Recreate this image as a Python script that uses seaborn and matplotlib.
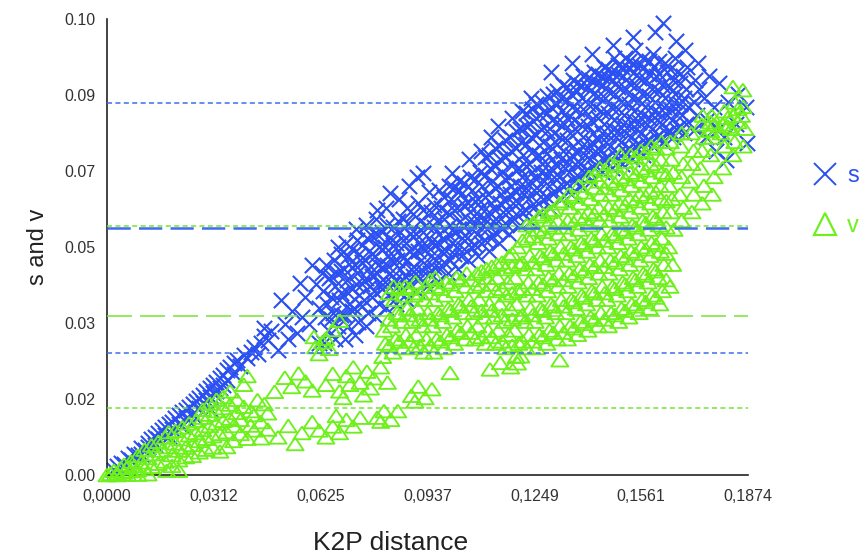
import numpy as np
import pandas as pd
import matplotlib
matplotlib.use("Agg")
import matplotlib.pyplot as plt
import seaborn as sns
from matplotlib.lines import Line2D

sns.set_theme(style="white")
plt.rcParams["font.family"] = ["Liberation Sans", "DejaVu Sans"]

# ---------------- axis / tick data ----------------
x_max = 0.1874
y_max = 0.104
x_tick_labels = ["0,0000", "0,0312", "0,0625", "0,0937", "0,1249", "0,1561", "0,1874"]
y_tick_labels = ["0.00", "0.02", "0.03", "0.05", "0.07", "0.09", "0.10"]
series_names = ["s", "v"]

# reference lines (mean and +/- 2 SD)
s_lines = [0.0848, 0.0563, 0.0278]   # upper, mean, lower
v_lines = [0.0568, 0.0363, 0.0153]

# ---------------- s (transitions) points: (K2P distance, s) ----------------
s_low = [(.002,.0012),(.003,.0021),(.004,.0028),(.005,.0024),(.006,.0038),(.007,.0034),(.008,.0049),
 (.009,.0046),(.010,.0062),(.010,.0049),(.011,.0057),(.012,.0074),(.012,.0064),(.013,.0081),(.014,.0087),
 (.014,.0069),(.015,.0081),(.015,.0095),(.016,.0102),(.017,.0091),(.017,.0109),(.018,.0116),(.018,.0089),
 (.019,.0104),(.019,.0121),(.020,.0129),(.021,.0117),(.021,.0136),(.022,.0143),(.022,.0111),(.023,.0129),
 (.023,.0149),(.024,.0156),(.025,.0139),(.025,.0163),(.026,.0169),(.026,.0131),(.027,.0152),(.027,.0176),
 (.028,.0164),(.028,.0183),(.029,.0172),(.029,.0191),(.030,.0178),(.030,.0199),(.030,.0150),(.031,.0186),
 (.031,.0206),(.032,.0191),(.032,.0213),(.033,.0199),(.033,.0221),(.034,.0206),(.034,.0229),(.035,.0216),
 (.035,.0239),(.036,.0246),(.037,.0231),(.037,.0256),(.038,.0263),(.039,.0249),(.040,.0273),(.041,.0266),
 (.042,.0281),(.043,.0293),(.044,.0276),(.045,.0301),(.046,.0316),(.047,.0309),(.048,.0329),(.046,.0336)]

s_sparse = [(.050,.0285),(.051,.0400),(.052,.0345),(.053,.0310),(.054,.0375),(.0555,.0325),(.0565,.0438),
 (.057,.0360),(.058,.0405),(.059,.0345),(.060,.0480),(.061,.0435),(.062,.0300),(.062,.0380),(.063,.0460),
 (.0827,.0643),(.0789,.0604),(.0924,.0689),(.1009,.0689),(.103,.065)]

s_main = [
 (.0634,.030),(.0646,.033),(.0638,.036),(.0644,.039),(.0632,.042),(.0648,.045),(.0640,.048),
 (.0666,.031),(.0674,.034),(.0662,.037),(.0678,.040),(.0668,.043),(.0672,.046),(.0664,.049),(.0676,.052),
 (.0696,.031),(.0704,.034),(.0692,.0365),(.0708,.039),(.0698,.042),(.0702,.0445),(.0694,.047),(.0706,.050),(.0700,.053),
 (.0726,.032),(.0734,.035),(.0722,.038),(.0738,.041),(.0728,.0435),(.0732,.046),(.0724,.048),(.0736,.0505),(.0730,.0535),(.0727,.056),
 (.0756,.034),(.0764,.037),(.0752,.040),(.0768,.043),(.0758,.045),(.0762,.047),(.0754,.049),(.0766,.051),(.0760,.054),(.0757,.057),
 (.0786,.036),(.0794,.039),(.0782,.042),(.0798,.044),(.0788,.046),(.0792,.048),(.0784,.050),(.0796,.052),(.0790,.055),(.0787,.0585),
 (.0816,.038),(.0824,.041),(.0812,.044),(.0828,.046),(.0818,.048),(.0822,.050),(.0814,.052),(.0826,.054),(.0820,.057),(.0817,.061),
 (.0846,.039),(.0854,.042),(.0842,.0445),(.0858,.047),(.0848,.049),(.0852,.051),(.0844,.053),(.0856,.0555),(.0850,.058),(.0853,.063),
 (.0876,.040),(.0884,.043),(.0872,.0455),(.0888,.047),(.0878,.049),(.0882,.051),(.0874,.053),(.0886,.055),(.0880,.0575),(.0877,.061),(.0883,.066),
 (.0906,.042),(.0914,.045),(.0902,.047),(.0918,.049),(.0908,.051),(.0912,.053),(.0904,.055),(.0916,.058),(.0910,.062),(.0907,.068),
 (.0936,.043),(.0944,.046),(.0932,.048),(.0948,.050),(.0938,.052),(.0942,.054),(.0934,.057),(.0946,.060),(.0940,.0645),
 (.0966,.044),(.0974,.047),(.0962,.049),(.0978,.051),(.0968,.053),(.0972,.055),(.0964,.058),(.0976,.061),(.0970,.065),
 (.0996,.046),(.1004,.049),(.0992,.051),(.1008,.053),(.0998,.055),(.1002,.057),(.0994,.060),(.1006,.063),(.1000,.066),
 (.1026,.047),(.1034,.050),(.1022,.052),(.1038,.054),(.1028,.056),(.1032,.058),(.1024,.061),(.1036,.064),(.1030,.067),
 (.1056,.049),(.1064,.052),(.1052,.054),(.1068,.056),(.1058,.058),(.1062,.060),(.1054,.062),(.1066,.065),(.1060,.068),(.1057,.072),
 (.1086,.050),(.1094,.053),(.1082,.055),(.1098,.057),(.1088,.059),(.1092,.061),(.1084,.063),(.1096,.066),(.1090,.069),(.1093,.074),
 (.1116,.051),(.1124,.054),(.1112,.056),(.1128,.058),(.1118,.060),(.1122,.062),(.1114,.064),(.1126,.067),(.1120,.070),(.1117,.073),(.1123,.077),
 (.1146,.053),(.1154,.056),(.1142,.058),(.1158,.060),(.1148,.062),(.1152,.064),(.1144,.066),(.1156,.069),(.1150,.072),(.1147,.075),(.1143,.0795),
 (.1176,.055),(.1184,.058),(.1172,.060),(.1188,.062),(.1178,.064),(.1182,.066),(.1174,.068),(.1186,.071),(.1180,.074),(.1177,.077),(.1183,.0815),
 (.1206,.057),(.1214,.060),(.1202,.062),(.1218,.064),(.1208,.066),(.1212,.068),(.1204,.070),(.1216,.073),(.1210,.076),(.1207,.079),(.1213,.083),
 (.1236,.058),(.1244,.061),(.1232,.063),(.1248,.065),(.1238,.067),(.1242,.069),(.1234,.071),(.1246,.074),(.1240,.077),(.1237,.080),(.1243,.0835),(.1239,.086),
 (.1266,.060),(.1274,.063),(.1262,.065),(.1278,.067),(.1268,.069),(.1272,.071),(.1264,.073),(.1276,.076),(.1270,.079),(.1267,.082),(.1273,.085),
 (.1296,.061),(.1304,.064),(.1292,.066),(.1308,.068),(.1298,.070),(.1302,.072),(.1294,.075),(.1306,.078),(.1300,.081),(.1297,.084),(.1303,.087),(.1299,.092),
 (.1326,.063),(.1334,.066),(.1322,.068),(.1338,.070),(.1328,.072),(.1332,.074),(.1324,.077),(.1336,.080),(.1330,.083),(.1327,.086),(.1333,.089),
 (.1356,.064),(.1364,.067),(.1352,.069),(.1368,.071),(.1358,.073),(.1362,.075),(.1354,.078),(.1366,.081),(.1360,.084),(.1357,.087),(.1363,.090),(.1359,.094),
 (.1386,.066),(.1394,.069),(.1382,.071),(.1398,.073),(.1388,.075),(.1392,.077),(.1384,.080),(.1396,.083),(.1390,.086),(.1387,.089),(.1393,.091),
 (.1416,.067),(.1424,.070),(.1412,.072),(.1428,.074),(.1418,.076),(.1422,.078),(.1414,.081),(.1426,.084),(.1420,.087),(.1417,.090),(.1423,.092),(.1419,.096),
 (.1446,.069),(.1454,.072),(.1442,.074),(.1458,.076),(.1448,.078),(.1452,.080),(.1444,.083),(.1456,.086),(.1450,.089),(.1447,.091),(.1453,.093),
 (.1476,.070),(.1484,.073),(.1472,.075),(.1488,.077),(.1478,.079),(.1482,.081),(.1474,.084),(.1486,.087),(.1480,.090),(.1477,.092),(.1483,.095),(.1479,.098),
 (.1506,.071),(.1514,.074),(.1502,.076),(.1518,.078),(.1508,.080),(.1512,.082),(.1504,.085),(.1516,.088),(.1510,.091),(.1507,.093),(.1513,.095),
 (.1536,.072),(.1544,.075),(.1532,.077),(.1548,.079),(.1538,.081),(.1542,.083),(.1534,.086),(.1546,.089),(.1540,.092),(.1537,.094),(.1543,.097),(.1539,.100),
 (.1566,.073),(.1574,.076),(.1562,.078),(.1578,.080),(.1568,.082),(.1572,.084),(.1564,.087),(.1576,.090),(.1570,.093),(.1567,.095),
 (.1596,.075),(.1604,.077),(.1592,.079),(.1608,.081),(.1598,.083),(.1602,.085),(.1594,.088),(.1606,.091),(.1600,.093),(.1597,.096),(.1603,.101),
 (.1626,.076),(.1634,.078),(.1622,.080),(.1638,.082),(.1628,.084),(.1632,.086),(.1624,.089),(.1636,.092),(.1630,.094),(.1625,.103),
 (.1656,.077),(.1664,.079),(.1652,.081),(.1668,.083),(.1658,.085),(.1662,.087),(.1654,.090),(.1666,.092),(.1660,.095),(.1663,.099),
 (.1686,.078),(.1694,.080),(.1682,.082),(.1698,.084),(.1688,.086),(.1692,.088),(.1684,.091),(.1696,.093),(.1690,.097)]

s_core = [
 (.0655,.0355),(.0655,.0405),(.0655,.0455),
 (.0685,.0365),(.0685,.0415),(.0685,.0465),(.0685,.0505),
 (.0715,.0375),(.0715,.0425),(.0715,.0475),(.0715,.0515),
 (.0745,.0385),(.0745,.0435),(.0745,.0485),(.0745,.0525),
 (.0775,.0405),(.0775,.0455),(.0775,.0505),(.0775,.0545),
 (.0805,.0425),(.0805,.0475),(.0805,.0515),(.0805,.0555),
 (.0835,.0435),(.0835,.0485),(.0835,.0525),(.0835,.0565),
 (.0865,.0445),(.0865,.0495),(.0865,.0535),(.0865,.0585),
 (.0895,.0455),(.0895,.0505),(.0895,.0545),(.0895,.0595),
 (.0925,.0465),(.0925,.0515),(.0925,.0555),(.0925,.0605),
 (.0955,.0475),(.0955,.0525),(.0955,.0565),(.0955,.0615),
 (.0985,.0485),(.0985,.0535),(.0985,.0585),(.0985,.0635),
 (.1015,.0505),(.1015,.0555),(.1015,.0605),(.1015,.0655),
 (.1045,.0515),(.1045,.0565),(.1045,.0615),(.1045,.0665),
 (.1075,.0525),(.1075,.0575),(.1075,.0625),(.1075,.0675),
 (.1105,.0535),(.1105,.0585),(.1105,.0635),(.1105,.0685),(.1105,.0725),
 (.1135,.0555),(.1135,.0605),(.1135,.0655),(.1135,.0705),(.1135,.0745),
 (.1165,.0575),(.1165,.0625),(.1165,.0675),(.1165,.0725),(.1165,.0765),
 (.1195,.0595),(.1195,.0645),(.1195,.0695),(.1195,.0745),(.1195,.0785),
 (.1225,.0605),(.1225,.0655),(.1225,.0705),(.1225,.0755),(.1225,.0795),(.1225,.0825),
 (.1255,.0625),(.1255,.0675),(.1255,.0725),(.1255,.0775),(.1255,.0815),(.1255,.0845),
 (.1285,.0635),(.1285,.0685),(.1285,.0735),(.1285,.0785),(.1285,.0825),(.1285,.0865),
 (.1315,.0655),(.1315,.0705),(.1315,.0755),(.1315,.0805),(.1315,.0845),(.1315,.0875),
 (.1345,.0665),(.1345,.0715),(.1345,.0765),(.1345,.0815),(.1345,.0855),(.1345,.0885),
 (.1375,.0685),(.1375,.0735),(.1375,.0785),(.1375,.0835),(.1375,.0875),(.1375,.0895),
 (.1405,.0695),(.1405,.0745),(.1405,.0795),(.1405,.0845),(.1405,.0885),(.1405,.0905),
 (.1435,.0715),(.1435,.0765),(.1435,.0815),(.1435,.0865),(.1435,.0895),(.1435,.0915),
 (.1465,.0725),(.1465,.0775),(.1465,.0825),(.1465,.0875),(.1465,.0905),(.1465,.0925),
 (.1495,.0735),(.1495,.0785),(.1495,.0835),(.1495,.0885),(.1495,.0915),(.1495,.0935),
 (.1525,.0745),(.1525,.0795),(.1525,.0845),(.1525,.0895),(.1525,.0925),(.1525,.0945),
 (.1555,.0755),(.1555,.0805),(.1555,.0855),(.1555,.0905),(.1555,.0935),
 (.1585,.0765),(.1585,.0815),(.1585,.0865),(.1585,.0915),(.1585,.0945),
 (.1615,.0775),(.1615,.0825),(.1615,.0875),(.1615,.0915),(.1615,.0945),
 (.1645,.0785),(.1645,.0835),(.1645,.0885),(.1645,.0925),
 (.1675,.0795),(.1675,.0845),(.1675,.0895)]

s_edge = [(.172,.079),(.1725,.082),(.1715,.085),(.173,.088),(.172,.090),(.1728,.094),(.175,.077),(.1755,.081),
 (.1745,.086),(.176,.091),(.178,.074),(.1785,.079),(.1775,.084),(.179,.0894),(.181,.0718),(.1805,.077),
 (.1815,.085),(.184,.080),(.1845,.087),(.187,.0757),(.1868,.0839)]

# ---------------- v (transversions) points: (K2P distance, v) ----------------
v_low = [(.000,.0000),(.003,.0000),(.006,.0001),(.009,.0001),(.012,.0002),(.0175,.0010),(.021,.0010),
 (.001,.0003),(.002,.0010),(.003,.0004),(.004,.0016),(.005,.0006),(.005,.0024),(.006,.0018),(.007,.0009),
 (.007,.0031),(.008,.0021),(.009,.0011),(.009,.0044),(.010,.0029),(.011,.0014),(.011,.0058),(.012,.0039),
 (.013,.0019),(.013,.0068),(.014,.0048),(.015,.0026),(.015,.0076),(.016,.0056),(.017,.0031),(.017,.0086),
 (.018,.0064),(.018,.0098),(.019,.0021),(.019,.0046),(.020,.0072),(.020,.0101),(.021,.0034),(.021,.0056),
 (.022,.0082),(.022,.0109),(.023,.0041),(.023,.0063),(.024,.0091),(.024,.0118),(.025,.0044),(.025,.0069),
 (.026,.0096),(.026,.0124),(.027,.0052),(.027,.0078),(.028,.0103),(.028,.0131),(.028,.0149),(.029,.0058),
 (.029,.0083),(.030,.0112),(.030,.0138),(.030,.0163),(.031,.0063),(.031,.0089),(.032,.0118),(.032,.0146),
 (.032,.0172),(.033,.0054),(.033,.0094),(.034,.0124),(.034,.0153),(.034,.0178),(.035,.0064),(.035,.0098),
 (.036,.0129),(.036,.0161),(.036,.0191),(.037,.0078),(.037,.0112),(.038,.0142),(.038,.0172),(.039,.0094),
 (.039,.0126),(.040,.0156),(.040,.0206),(.041,.0226),(.041,.0083),(.042,.0113),(.042,.0146),(.043,.0102),
 (.043,.0137),(.044,.0171),(.045,.0084),(.045,.0121),(.046,.0162),(.047,.0104),(.047,.0141)]

v_mid = [(.049,.0190),(.052,.0222),(.054,.0201),(.056,.0232),(.058,.0214),(.060,.0193),(.050,.0086),
 (.053,.0112),(.055,.0071),(.057,.0096),(.060,.0121),(.062,.0102),
 (.061,.0292),(.063,.0303),(.062,.0276),(.064,.0311),(.066,.0331),(.068,.0352),(.0605,.0315),(.065,.0288),
 (.064,.0206),(.066,.0231),(.068,.0191),(.070,.0226),(.072,.0246),(.074,.0211),(.076,.0236),(.078,.0221),
 (.080,.0246),(.082,.0211),(.075,.0182),(.069,.0176),(.071,.0206),(.077,.0198),
 (.064,.0086),(.066,.0111),(.068,.0096),(.070,.0126),(.072,.0111),(.074,.0131),(.067,.0135),
 (.079,.0131),(.081,.0146),(.083,.0126),(.085,.0146),(.080,.0122),
 (.089,.0181),(.091,.0202),(.093,.0176),(.095,.0196),(.090,.0168),(.1003,.0233),
 (.112,.0241),(.115,.0256),(.118,.0246),(.121,.0271),(.1324,.0262),(.120,.0255)]

v_main = [
 (.0806,.027),(.0814,.030),(.0810,.033),
 (.0836,.028),(.0844,.031),(.0832,.034),(.0848,.037),(.0840,.040),(.0838,.043),
 (.0866,.029),(.0874,.032),(.0862,.035),(.0878,.038),(.0868,.041),(.0872,.043),
 (.0896,.029),(.0904,.032),(.0892,.035),(.0908,.038),(.0898,.041),(.0902,.044),
 (.0926,.028),(.0934,.031),(.0922,.034),(.0938,.037),(.0928,.040),(.0932,.043),
 (.0956,.028),(.0964,.031),(.0952,.034),(.0968,.037),(.0958,.040),(.0962,.043),(.0960,.045),
 (.0986,.029),(.0994,.032),(.0982,.035),(.0998,.038),(.0988,.041),(.0992,.044),
 (.1016,.030),(.1024,.033),(.1012,.036),(.1028,.039),(.1018,.042),(.1022,.045),
 (.1046,.031),(.1054,.034),(.1042,.037),(.1058,.040),(.1048,.043),(.1052,.046),
 (.1076,.031),(.1084,.034),(.1072,.037),(.1088,.040),(.1078,.043),(.1082,.046),
 (.1106,.030),(.1114,.033),(.1102,.036),(.1118,.039),(.1108,.042),(.1112,.045),(.1110,.047),
 (.1136,.030),(.1144,.033),(.1132,.036),(.1148,.039),(.1138,.042),(.1142,.045),(.1140,.048),
 (.1166,.029),(.1174,.032),(.1162,.035),(.1178,.038),(.1168,.041),(.1172,.044),(.1164,.047),(.1176,.050),
 (.1196,.027),(.1204,.030),(.1192,.033),(.1208,.036),(.1198,.039),(.1202,.042),(.1194,.045),(.1206,.048),(.1200,.052),
 (.1226,.029),(.1234,.032),(.1222,.035),(.1238,.038),(.1228,.041),(.1232,.044),(.1224,.047),(.1236,.050),(.1230,.054),(.1227,.057),
 (.1256,.029),(.1264,.032),(.1252,.035),(.1268,.038),(.1258,.041),(.1262,.044),(.1254,.047),(.1266,.050),(.1260,.053),(.1257,.056),(.1263,.059),
 (.1286,.030),(.1294,.033),(.1282,.036),(.1298,.039),(.1288,.042),(.1292,.045),(.1284,.048),(.1296,.051),(.1290,.054),(.1287,.057),(.1293,.060),
 (.1316,.031),(.1324,.034),(.1312,.037),(.1328,.040),(.1318,.043),(.1322,.046),(.1314,.049),(.1326,.052),(.1320,.055),(.1317,.058),(.1323,.062),
 (.1346,.031),(.1354,.034),(.1342,.037),(.1358,.040),(.1348,.043),(.1352,.046),(.1344,.049),(.1356,.052),(.1350,.055),(.1347,.058),(.1353,.061),(.1349,.064),
 (.1376,.032),(.1384,.035),(.1372,.038),(.1388,.041),(.1378,.044),(.1382,.047),(.1374,.050),(.1386,.053),(.1380,.056),(.1377,.059),(.1383,.062),(.1379,.066),
 (.1406,.033),(.1414,.036),(.1402,.039),(.1418,.042),(.1408,.045),(.1412,.048),(.1404,.051),(.1416,.054),(.1410,.057),(.1407,.060),(.1413,.063),(.1409,.068),
 (.1436,.034),(.1444,.037),(.1432,.040),(.1448,.043),(.1438,.046),(.1442,.049),(.1434,.052),(.1446,.055),(.1440,.058),(.1437,.061),(.1443,.064),(.1439,.067),(.1441,.070),
 (.1466,.034),(.1474,.037),(.1462,.040),(.1478,.043),(.1468,.046),(.1472,.049),(.1464,.052),(.1476,.055),(.1470,.058),(.1467,.061),(.1473,.064),(.1469,.067),(.1471,.071),
 (.1496,.035),(.1504,.038),(.1492,.041),(.1508,.044),(.1498,.047),(.1502,.050),(.1494,.053),(.1506,.056),(.1500,.059),(.1497,.062),(.1503,.065),(.1499,.068),(.1501,.073),
 (.1526,.036),(.1534,.039),(.1522,.042),(.1538,.045),(.1528,.048),(.1532,.051),(.1524,.054),(.1536,.057),(.1530,.060),(.1527,.063),(.1533,.066),(.1529,.069),(.1531,.073),
 (.1556,.037),(.1564,.040),(.1552,.043),(.1568,.046),(.1558,.049),(.1562,.052),(.1554,.055),(.1566,.058),(.1560,.061),(.1557,.064),(.1563,.067),(.1559,.070),(.1561,.074),
 (.1586,.038),(.1594,.041),(.1582,.044),(.1598,.047),(.1588,.050),(.1592,.053),(.1584,.056),(.1596,.059),(.1590,.062),(.1587,.065),(.1593,.068),(.1589,.071),(.1591,.075),
 (.1616,.039),(.1624,.042),(.1612,.045),(.1628,.048),(.1618,.051),(.1622,.054),(.1614,.057),(.1626,.060),(.1620,.063),(.1617,.066),(.1623,.069),(.1619,.072),(.1621,.076),
 (.1646,.043),(.1654,.048),(.1642,.052),(.1658,.056),(.1648,.060),(.1652,.063),(.1644,.066),(.1656,.069),(.1650,.072),(.1647,.076)]

v_core = [
 (.0825,.0295),(.0825,.0355),(.0825,.0415),
 (.0855,.0305),(.0855,.0365),(.0855,.0425),
 (.0885,.0305),(.0885,.0365),(.0885,.0425),
 (.0915,.0295),(.0915,.0355),(.0915,.0415),
 (.0945,.0295),(.0945,.0355),(.0945,.0415),(.0945,.0445),
 (.0975,.0305),(.0975,.0365),(.0975,.0425),
 (.1005,.0315),(.1005,.0375),(.1005,.0435),
 (.1035,.0325),(.1035,.0385),(.1035,.0445),
 (.1065,.0325),(.1065,.0385),(.1065,.0445),
 (.1095,.0315),(.1095,.0375),(.1095,.0435),(.1095,.0465),
 (.1125,.0315),(.1125,.0375),(.1125,.0435),(.1125,.0475),
 (.1155,.0305),(.1155,.0365),(.1155,.0425),(.1155,.0485),
 (.1185,.0295),(.1185,.0355),(.1185,.0415),(.1185,.0475),(.1185,.0505),
 (.1215,.0305),(.1215,.0365),(.1215,.0425),(.1215,.0485),(.1215,.0535),
 (.1245,.0305),(.1245,.0365),(.1245,.0425),(.1245,.0485),(.1245,.0545),(.1245,.0575),
 (.1275,.0315),(.1275,.0375),(.1275,.0435),(.1275,.0495),(.1275,.0555),(.1275,.0595),
 (.1305,.0325),(.1305,.0385),(.1305,.0445),(.1305,.0505),(.1305,.0565),(.1305,.0605),
 (.1335,.0325),(.1335,.0385),(.1335,.0445),(.1335,.0505),(.1335,.0565),(.1335,.0625),
 (.1365,.0335),(.1365,.0395),(.1365,.0455),(.1365,.0515),(.1365,.0575),(.1365,.0635),
 (.1395,.0345),(.1395,.0405),(.1395,.0465),(.1395,.0525),(.1395,.0585),(.1395,.0645),
 (.1425,.0355),(.1425,.0415),(.1425,.0475),(.1425,.0535),(.1425,.0595),(.1425,.0655),(.1425,.0685),
 (.1455,.0355),(.1455,.0415),(.1455,.0475),(.1455,.0535),(.1455,.0595),(.1455,.0655),(.1455,.0695),
 (.1485,.0365),(.1485,.0425),(.1485,.0485),(.1485,.0545),(.1485,.0605),(.1485,.0665),(.1485,.0705),
 (.1515,.0375),(.1515,.0435),(.1515,.0495),(.1515,.0555),(.1515,.0615),(.1515,.0675),(.1515,.0715),
 (.1545,.0385),(.1545,.0445),(.1545,.0505),(.1545,.0565),(.1545,.0625),(.1545,.0685),(.1545,.0725),
 (.1575,.0395),(.1575,.0455),(.1575,.0515),(.1575,.0575),(.1575,.0635),(.1575,.0695),(.1575,.0735),
 (.1605,.0405),(.1605,.0465),(.1605,.0525),(.1605,.0585),(.1605,.0645),(.1605,.0705),(.1605,.0745),
 (.1635,.0445),(.1635,.0505),(.1635,.0565),(.1635,.0625),(.1635,.0685),(.1635,.0745),
 (.1765,.0785),(.1765,.0805),(.1815,.0795),(.1815,.0815),(.1845,.0805),(.1845,.0835)]

v_right = [(.168,.058),(.1685,.061),(.1675,.064),(.168,.068),(.1685,.071),(.1678,.075),(.168,.078),
 (.171,.060),(.1715,.064),(.1705,.067),(.171,.071),(.1715,.074),(.1708,.078),
 (.174,.062),(.1745,.066),(.1735,.070),(.174,.074),(.1745,.077),(.1738,.080),(.1742,.082),
 (.177,.064),(.1775,.068),(.1765,.073),(.177,.077),(.1775,.080),(.1768,.082),
 (.180,.070),(.1805,.075),(.1795,.078),(.180,.080),(.1805,.083),
 (.183,.073),(.1835,.076),(.1825,.079),(.183,.082),(.1835,.085),(.183,.0885),
 (.186,.075),(.1865,.079),(.1855,.082),(.186,.084),(.1859,.0878)]

# ---------------- tables ----------------
df_s = pd.DataFrame(s_low + s_sparse + s_main + s_core + s_edge, columns=["K2P", "value"])
df_v = pd.DataFrame(v_low + v_mid + v_main + v_core + v_right, columns=["K2P", "value"])

blue = "#2b50f2"
green = "#6ef01c"
blue_line = "#3f6cf0"
green_line = "#74e634"

fig = plt.figure(figsize=(8.61, 5.58), dpi=100)
ax = fig.add_axes([107 / 861, 83 / 558, 641 / 861, 456 / 558])

sns.scatterplot(data=df_s, x="K2P", y="value", marker="x", s=121, color=blue,
                linewidth=1.5, ax=ax, clip_on=False, zorder=2, legend=False)
tri = [(0, 1.5), (-2, -1.5), (2, -1.5), (0, 1.5)]
sns.scatterplot(data=df_v, x="K2P", y="value", marker=tri, s=150, color=green,
                facecolor="none", edgecolor=green, linewidth=1.35, ax=ax,
                clip_on=False, zorder=3, legend=False)

# mean +/- 2SD reference lines
ax.axhline(s_lines[0], color=blue_line, lw=1.1, dashes=(3.3, 2.2), zorder=5)
ax.axhline(s_lines[1], color=blue_line, lw=1.8, dashes=(9.3, 3.3), zorder=5)
ax.axhline(s_lines[2], color=blue_line, lw=1.1, dashes=(3.3, 2.2), zorder=5)
ax.axhline(v_lines[0], color=green_line, lw=1.1, dashes=(3.3, 2.2), zorder=5)
ax.axhline(v_lines[1], color=green_line, lw=1.1, dashes=(16.4, 5.2), zorder=5)
ax.axhline(v_lines[2], color=green_line, lw=1.1, dashes=(3.3, 2.2), zorder=5)

ax.set_xlim(0, x_max)
ax.set_ylim(0, y_max)
ax.set_xticks(np.linspace(0, x_max, len(x_tick_labels)))
ax.set_xticklabels(x_tick_labels)
ax.set_yticks(np.linspace(0, y_max, len(y_tick_labels)))
ax.set_yticklabels(y_tick_labels)

for side in ["top", "right"]:
    ax.spines[side].set_visible(False)
for side in ["left", "bottom"]:
    ax.spines[side].set_color("#222222")
    ax.spines[side].set_linewidth(1.2)
ax.tick_params(axis="both", direction="in", length=7, width=1.2, color="#222222",
               labelsize=11.5, labelcolor="#333333")
ax.tick_params(axis="x", pad=10)
ax.tick_params(axis="y", pad=8.5)

ax.set_xlabel("K2P distance", fontsize=19, color="#222222")
ax.xaxis.set_label_coords(0.443, -0.123)
ax.set_ylabel("s and v", fontsize=17, color="#222222")
ax.yaxis.set_label_coords(-0.09, 0.5)

h_s = Line2D([], [], ls="none", marker="x", markersize=16, mew=1.4, color=blue)
h_v = Line2D([], [], ls="none", marker="^", markersize=16, mfc="none", mec=green, mew=1.6)
fig.legend(handles=[h_s, h_v], labels=series_names, loc="center left",
           bbox_to_anchor=(801 / 861, 1 - 201 / 558), frameon=False, fontsize=17,
           labelcolor=[blue, green], handlelength=1.2, handletextpad=0.35,
           labelspacing=1.2, borderaxespad=0)

fig.savefig("out.png", dpi=100)
